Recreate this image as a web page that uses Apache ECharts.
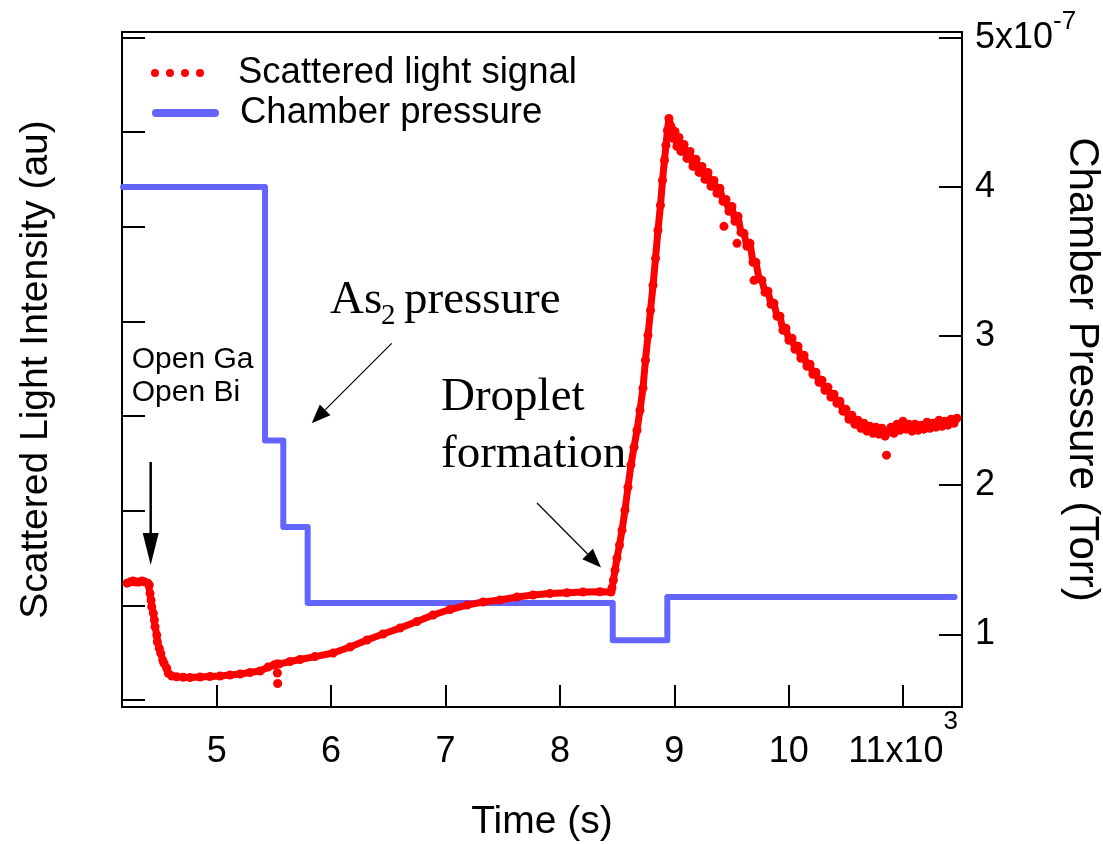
<!DOCTYPE html>
<html>
<head>
<meta charset="utf-8">
<script src="https://cdn.jsdelivr.net/npm/echarts@6/dist/echarts.min.js"></script>
<style>
  html, body { margin: 0; padding: 0; background: #fff; }
  #chart { width: 1103px; height: 844px; }
</style>
</head>
<body>
<div id="chart"></div>
<script>
// Axis ticks
const timeTicks = [5000, 6000, 7000, 8000, 9000, 10000, 11000];
const timeTickLabels = ['5', '6', '7', '8', '9', '10', '11'];
const timeExponent = '3';
const intensityTicks = [0, 1, 2, 3, 4, 5, 6, 7];
const pressureTicks = [1, 2, 3, 4, 5];
const pressureTickLabels = ['1', '2', '3', '4', '5'];
const pressureExponent = '-7';

// Chamber pressure (x 1e-7 Torr), value held until the next time stamp
const pressureTime = [4181, 5422, 5582, 5795, 8462, 8939, 11450];
const pressureE7 = [4.0, 2.30, 1.72, 1.21, 0.96, 1.25, 1.25];

// Scattered light signal (au), main trace
const signalTime = [
  4216, 4242, 4268, 4295, 4321, 4347, 4373, 4399,
  4411, 4417, 4426, 4432, 4446, 4455, 4461, 4476, 4481, 4498, 4511, 4528, 4539, 4563, 4577, 4607, 4650, 4708,
  4767, 4854, 4941, 5029, 5116, 5204, 5291, 5378, 5448, 5501, 5523, 5545, 5641, 5728, 5859, 6017,
  6165, 6314, 6454, 6602, 6751, 6891, 7039, 7188, 7328, 7476, 7625, 7765, 7913, 8062, 8202, 8350, 8447,
  8455, 8468, 8482, 8499, 8521, 8543, 8569, 8595, 8621, 8648, 8674, 8700, 8726, 8748, 8770, 8792, 8814,
  8836, 8857, 8879, 8897, 8914, 8927, 8940, 8953,
  8971, 8988, 9006, 9023, 9041, 9058, 9085, 9111, 9137, 9163, 9190, 9216, 9242, 9268, 9294, 9321, 9347,
  9373, 9399, 9426, 9452, 9478, 9504, 9530, 9557, 9583, 9609, 9635, 9662, 9688, 9714,
  9740, 9766, 9793, 9819, 9845, 9871, 9898, 9924, 9950, 9976, 10002, 10029, 10055, 10081, 10107, 10134,
  10160, 10186, 10212, 10238, 10265, 10291, 10317, 10343, 10370, 10396, 10422, 10448, 10474, 10501, 10527,
  10553, 10579, 10606, 10632, 10658, 10684, 10710, 10737, 10763, 10789, 10815, 10842, 10868, 10894,
  10920, 10946, 10973, 10999, 11025, 11051, 11078, 11104, 11130, 11156, 11182, 11209, 11235, 11261, 11287,
  11314, 11340, 11366, 11392, 11419, 11445, 11471
];
const signalValue = [
  1.235, 1.246, 1.257, 1.246, 1.246, 1.257, 1.246, 1.235,
  1.214, 1.127, 1.056, 0.985, 0.916, 0.845, 0.774, 0.686, 0.616, 0.546, 0.493, 0.422, 0.388, 0.335, 0.282, 0.253, 0.246, 0.240,
  0.238, 0.243, 0.248, 0.253, 0.264, 0.275, 0.290, 0.306, 0.348, 0.370, 0.380, 0.380, 0.407, 0.428, 0.459, 0.496,
  0.560, 0.634, 0.697, 0.760, 0.829, 0.898, 0.956, 1.003, 1.035, 1.056, 1.088, 1.109, 1.125, 1.133, 1.140, 1.144, 1.140,
  1.183, 1.267, 1.373, 1.499, 1.637, 1.795, 2.006, 2.249, 2.482, 2.672, 2.851, 3.062, 3.295, 3.590, 3.854, 4.118, 4.382,
  4.667, 4.963, 5.227, 5.491, 5.702, 5.861, 6.019, 6.146,
  6.061, 5.935, 6.008, 5.850, 5.945, 5.797, 5.871, 5.723, 5.797, 5.639, 5.713, 5.575, 5.639, 5.502, 5.575, 5.428, 5.491,
  5.354, 5.407, 5.269, 5.290, 5.164, 5.216, 5.058, 5.111, 4.942, 4.931, 4.794, 4.826, 4.625, 4.625,
  4.456, 4.435, 4.308, 4.319, 4.182, 4.192, 4.055, 4.055, 3.907, 3.928, 3.801, 3.823, 3.706, 3.738, 3.611, 3.643,
  3.527, 3.548, 3.442, 3.464, 3.358, 3.379, 3.273, 3.305, 3.200, 3.231, 3.136, 3.157, 3.052, 3.073, 2.967,
  3.010, 2.914, 2.957, 2.872, 2.925, 2.841, 2.893, 2.819, 2.883, 2.809, 2.872, 2.788, 2.830, 2.883,
  2.819, 2.914, 2.851, 2.946, 2.862, 2.914, 2.841, 2.914, 2.851, 2.904, 2.862, 2.936, 2.872, 2.925, 2.883,
  2.957, 2.893, 2.946, 2.904, 2.967, 2.925, 2.978
];

// Scattered light signal (au), isolated readings
const strayTime = [5530, 5533, 9434, 9548, 9697, 10855];
const strayValue = [0.285, 0.174, 5.005, 4.826, 4.435, 2.587];

const SANS = '"Liberation Sans", Arial, sans-serif';
const SERIF = '"Liberation Serif", "Times New Roman", serif';
const RED = '#ff0000';
const BLUE = '#6464ff';

const zip = (xs, ys) => xs.map((x, i) => [x, ys[i]]);

// Legend glyphs: four dots, and a thick rounded bar
const DOT_ICON = 'path://M0,4a4,4 0 1,0 8,0a4,4 0 1,0 -8,0zM15,4a4,4 0 1,0 8,0a4,4 0 1,0 -8,0z' +
  'M30,4a4,4 0 1,0 8,0a4,4 0 1,0 -8,0zM45,4a4,4 0 1,0 8,0a4,4 0 1,0 -8,0z';
const BAR_ICON = 'path://M4,0H63A4,4 0 0,1 63,8H4A4,4 0 0,1 4,0Z';

// Straight arrow with a filled triangular head
function arrow(x1, y1, x2, y2, headLen, halfW, width) {
  const len = Math.hypot(x2 - x1, y2 - y1);
  const dx = (x2 - x1) / len, dy = (y2 - y1) / len;
  const bx = x2 - dx * headLen, by = y2 - dy * headLen;
  return [
    { type: 'line', silent: true, shape: { x1: x1, y1: y1, x2: bx, y2: by },
      style: { stroke: '#000', lineWidth: width } },
    { type: 'polygon', silent: true,
      shape: { points: [[x2, y2], [bx - dy * halfW, by + dx * halfW], [bx + dy * halfW, by - dx * halfW]] },
      style: { fill: '#000' } }
  ];
}

const axisLineStyle = { color: '#000', width: 2 };

const chart = echarts.init(document.getElementById('chart'));

chart.setOption({
  animation: false,
  backgroundColor: '#fff',
  grid: {
    left: 122, right: 141, top: 32, bottom: 137,
    show: true, borderColor: '#000', borderWidth: 2, backgroundColor: 'transparent',
    containLabel: false, outerBoundsMode: 'none'
  },
  legend: [
    {
      data: [{ name: 'Scattered light signal', icon: DOT_ICON, itemStyle: { color: RED, borderWidth: 0, opacity: 1 } }],
      left: 151, top: 53, padding: 0, itemWidth: 53, itemHeight: 8, selectedMode: false,
      textStyle: { fontFamily: SANS, fontSize: 36.5, color: '#000', lineHeight: 40, padding: [0, 0, 0, 29] }
    },
    {
      data: [{ name: 'Chamber pressure', icon: BAR_ICON, itemStyle: { color: BLUE, borderWidth: 0, opacity: 1 } }],
      left: 152, top: 93, padding: 0, itemWidth: 67, itemHeight: 8, selectedMode: false,
      textStyle: { fontFamily: SANS, fontSize: 36.5, color: '#000', lineHeight: 40, padding: [0, 0, 0, 16] }
    }
  ],
  xAxis: {
    type: 'value', min: 4172, max: 11515,
    name: 'Time (s)', nameLocation: 'middle', nameGap: 96, nameMoveOverlap: false,
    nameTextStyle: { fontFamily: SANS, fontSize: 39, color: '#000' },
    axisLine: { show: true, onZero: false, lineStyle: axisLineStyle },
    axisTick: { show: true, inside: true, length: 22, customValues: timeTicks, lineStyle: axisLineStyle },
    axisLabel: {
      show: true, customValues: timeTicks, margin: 45, verticalAlign: 'middle',
      formatter: function (v) {
        const i = timeTicks.indexOf(v);
        return '{n|' + timeTickLabels[i] + (i === timeTicks.length - 1 ? 'x10}{sup|' + timeExponent + '}' : '}');
      },
      rich: {
        n: { fontFamily: SANS, fontSize: 36, color: '#000' },
        sup: { fontFamily: SANS, fontSize: 26, color: '#000', padding: [0, 0, 60, 0] }
      }
    },
    splitLine: { show: false }
  },
  yAxis: [
    {
      type: 'value', position: 'left', min: -0.074, max: 7.059,
      name: 'Scattered Light Intensity (au)', nameLocation: 'middle', nameGap: 66, nameRotate: 90, nameMoveOverlap: false,
      nameTextStyle: { fontFamily: SANS, fontSize: 39, color: '#000' },
      axisLine: { show: true, onZero: false, lineStyle: axisLineStyle },
      axisTick: { show: true, inside: true, length: 23, customValues: intensityTicks, lineStyle: axisLineStyle },
      axisLabel: { show: false },
      splitLine: { show: false }
    },
    {
      type: 'value', position: 'right', min: 0.513, max: 5.039,
      name: 'Chamber Pressure (Torr)', nameLocation: 'middle', nameGap: 99, nameRotate: -90, nameMoveOverlap: false,
      nameTextStyle: { fontFamily: SANS, fontSize: 42, color: '#000' },
      axisLine: { show: true, onZero: false, lineStyle: axisLineStyle },
      axisTick: { show: true, inside: true, length: 23, customValues: pressureTicks, lineStyle: axisLineStyle },
      axisLabel: {
        show: true, customValues: pressureTicks, margin: 13,
        formatter: function (v) {
          const i = pressureTicks.indexOf(v);
          return '{n|' + pressureTickLabels[i] + (i === pressureTicks.length - 1 ? 'x10}{sup|' + pressureExponent + '}' : '}');
        },
        rich: {
          n: { fontFamily: SANS, fontSize: 36, color: '#000' },
          sup: { fontFamily: SANS, fontSize: 26, color: '#000', padding: [0, 0, 32, 0] }
        }
      },
      splitLine: { show: false }
    }
  ],
  series: [
    {
      name: 'Chamber pressure', type: 'line', yAxisIndex: 1, step: 'end',
      data: zip(pressureTime, pressureE7), symbol: 'none', z: 2,
      lineStyle: { color: BLUE, width: 6, cap: 'round', join: 'round' },
      itemStyle: { color: BLUE }
    },
    {
      name: 'Scattered light signal', type: 'line', yAxisIndex: 0,
      data: zip(signalTime, signalValue), z: 3,
      symbol: 'circle', symbolSize: 9, showSymbol: true, showAllSymbol: true,
      lineStyle: { color: RED, width: 7, cap: 'round', join: 'round' },
      itemStyle: { color: RED, borderWidth: 0, opacity: 1 }
    },
    {
      name: 'Scattered light signal', type: 'scatter', yAxisIndex: 0,
      data: zip(strayTime, strayValue), z: 3,
      symbol: 'circle', symbolSize: 9,
      itemStyle: { color: RED, borderWidth: 0, opacity: 1 }
    }
  ],
  graphic: [
    { type: 'text', x: 131.7, y: 376.5, silent: true,
      style: { text: 'Open Ga\nOpen Bi', fill: '#000', fontFamily: SANS, fontSize: 30, lineHeight: 33, align: 'left', verticalAlign: 'middle' } },
    { type: 'text', x: 330, y: 301, silent: true,
      style: { text: 'As', fill: '#000', fontFamily: SERIF, fontSize: 47, align: 'left', verticalAlign: 'middle' } },
    { type: 'text', x: 381, y: 316, silent: true,
      style: { text: '2', fill: '#000', fontFamily: SERIF, fontSize: 29, align: 'left', verticalAlign: 'middle' } },
    { type: 'text', x: 404, y: 301, silent: true,
      style: { text: 'pressure', fill: '#000', fontFamily: SERIF, fontSize: 47, align: 'left', verticalAlign: 'middle' } },
    { type: 'text', x: 441, y: 426, silent: true,
      style: { text: 'Droplet\nformation', fill: '#000', fontFamily: SERIF, fontSize: 47, lineHeight: 57, align: 'left', verticalAlign: 'middle' } }
  ]
    .concat(arrow(150.7, 462, 150.7, 565, 32, 8, 2.5))
    .concat(arrow(391.7, 343.3, 311.7, 423.3, 19, 7.5, 1.2))
    .concat(arrow(537, 503, 601, 567.5, 19, 7.5, 1.2))
});
</script>
</body>
</html>
